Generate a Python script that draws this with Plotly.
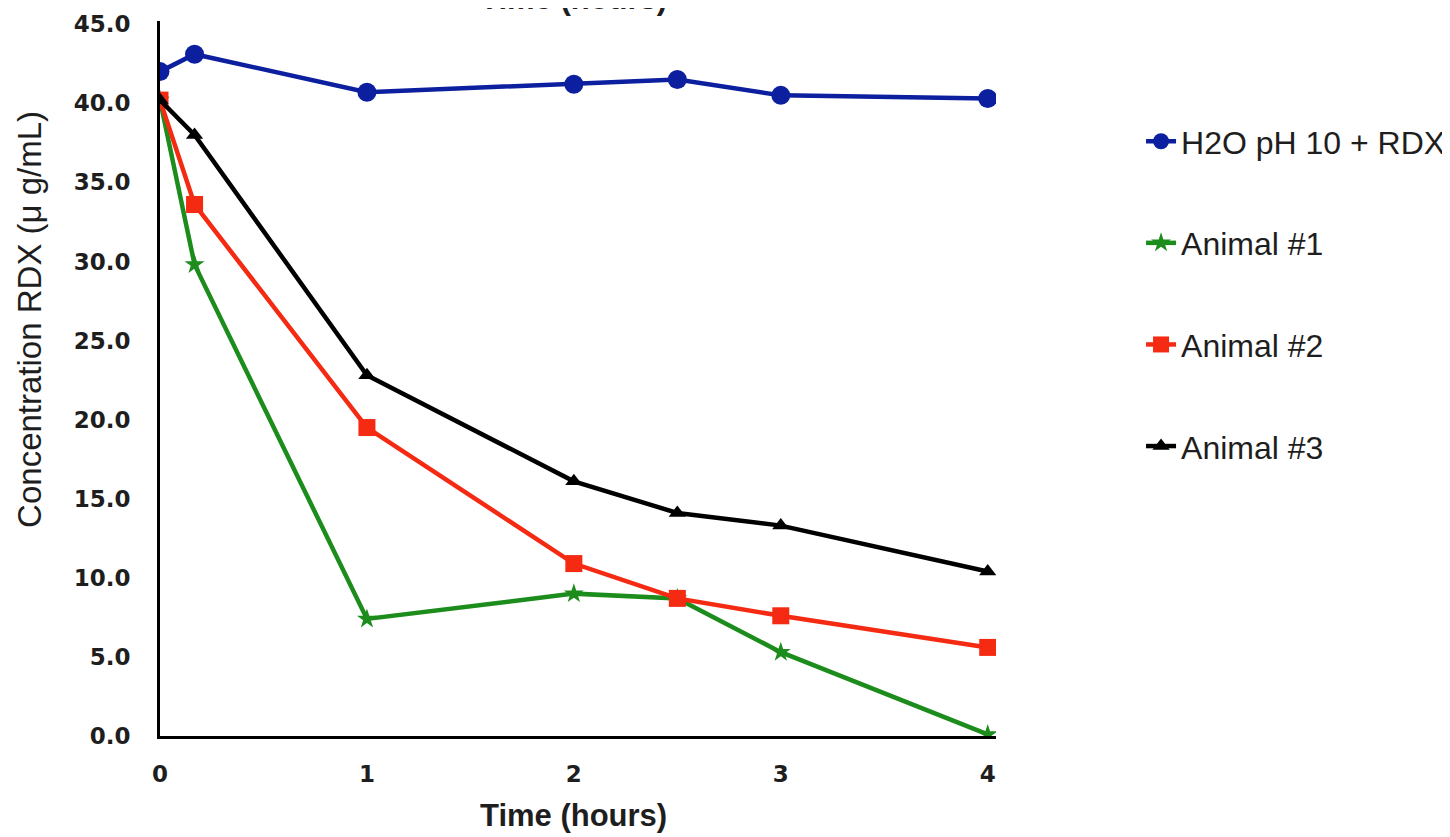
import plotly.graph_objects as go

time_h = [0, 0.167, 1, 2, 2.5, 3, 4]
h2o = [42.0, 43.1, 40.7, 41.2, 41.5, 40.5, 40.3]
animal1 = [40.2, 29.8, 7.4, 9.0, 8.7, 5.3, 0.1]
animal2 = [40.2, 33.6, 19.5, 10.9, 8.7, 7.6, 5.6]
animal3 = [40.2, 38.0, 22.8, 16.1, 14.1, 13.3, 10.4]
y_ticks = [0, 5, 10, 15, 20, 25, 30, 35, 40, 45]
x_ticks = [0, 1, 2, 3, 4]

series = [
    ("H2O pH 10 + RDX", h2o, "#0c1f9e", "circle", 19),
    ("Animal #1", animal1, "#1c8c1c", "star", 15),
    ("Animal #2", animal2, "#f42a12", "square", 17),
    ("Animal #3", animal3, "#000000", "triangle-up", 15),
]

fig = go.Figure()
for i, (name, vals, col, sym, sz) in enumerate(series):
    fig.add_trace(go.Scatter(
        x=time_h, y=vals, name=name, mode="lines+markers",
        line=dict(color=col, width=4.5),
        marker=dict(symbol=sym, size=sz, color=col),
        legendgroup=str(i),
    ))

TXT = "#1e1e1e"
fig.update_layout(
    width=1442, height=829,
    margin=dict(l=152, r=454, t=13, b=101, autoexpand=False),
    plot_bgcolor="white", paper_bgcolor="white",
    font=dict(family="Liberation Sans, Arial, sans-serif", color=TXT),
    showlegend=True,
    legend=dict(x=1.1735, xanchor="left", xref="paper", y=0.87, yanchor="top",
                font=dict(size=32, color=TXT), tracegroupgap=57,
                itemwidth=30, bgcolor="rgba(0,0,0,0)"),
    xaxis=dict(range=[0, 4.04], tickvals=x_ticks, showgrid=False, automargin=False,
               zeroline=False, showline=True, linecolor="black", linewidth=3,
               tickfont=dict(size=23, color=TXT, family="DejaVu Sans", weight="bold"),
               ticklabelstandoff=15),
    yaxis=dict(range=[0, 45.2], tickvals=y_ticks, automargin=False,
               tickformat=".1f", showgrid=False, zeroline=False, showline=True,
               linecolor="black", linewidth=3,
               tickfont=dict(size=23, color=TXT, family="DejaVu Sans", weight="bold"),
               ticklabelstandoff=22),
)

fig.add_annotation(text="<b>Time (hours)</b>", xref="x", yref="paper", x=2, y=-0.1105,
                   showarrow=False, font=dict(size=31, color=TXT), yanchor="middle")
fig.add_annotation(text="<b>Time (hours)</b>", xref="x", yref="paper", x=2, y=1.0,
                   yshift=3, showarrow=False, font=dict(size=31, color=TXT), yanchor="bottom")
fig.add_annotation(text="Concentration RDX (\u03bc g/mL)", xref="paper", yref="paper",
                   x=-0.157, y=0.583, textangle=-90, showarrow=False,
                   font=dict(size=33, color=TXT), xanchor="center", yanchor="middle")

fig.write_html("out.html")
